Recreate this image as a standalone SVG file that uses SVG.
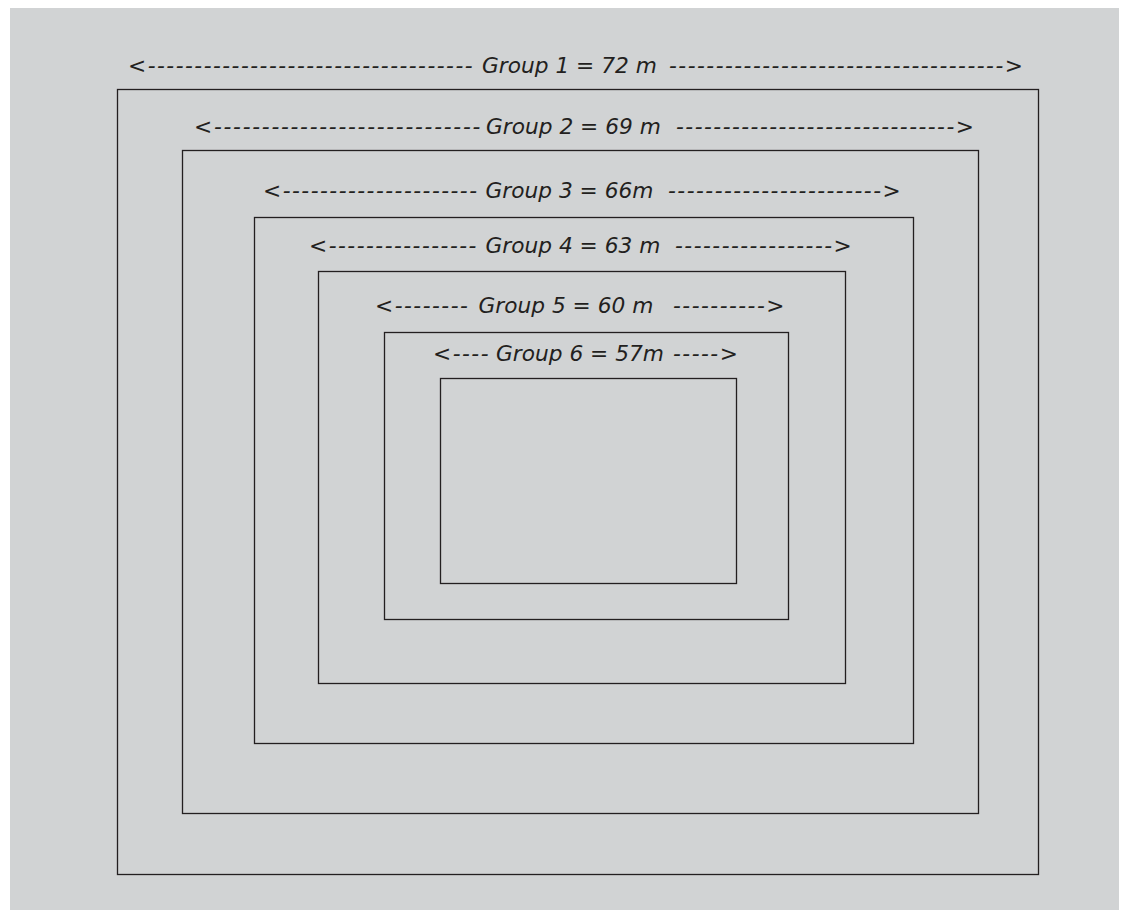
<svg xmlns="http://www.w3.org/2000/svg" width="1122" height="910" viewBox="0 0 1122 910">
<style>
.bg{fill:#d1d3d4}
.box{fill:none;stroke:#231f20;stroke-width:1.3}
text{font-family:"DejaVu Sans","Verdana",sans-serif;font-style:italic;font-size:21.7px;fill:#231f20}
.d{letter-spacing:1.5px}
.dw{letter-spacing:1.75px}
</style>
<rect class="bg" x="10" y="8" width="1109" height="902"/>
<g id="group1">
<rect class="box" x="117.5" y="89.5" width="921" height="785"/>
<text y="72.5"><tspan class="d" x="128">&lt;-----------------------------------</tspan><tspan x="482">Group 1 = 72 m</tspan><tspan class="d" x="669">------------------------------------&gt;</tspan></text>
</g>
<g id="group2">
<rect class="box" x="182.5" y="150.5" width="796" height="663"/>
<text y="134"><tspan class="dw" x="194">&lt;----------------------------</tspan><tspan x="486">Group 2 = 69 m</tspan><tspan class="d" x="676">------------------------------&gt;</tspan></text>
</g>
<g id="group3">
<rect class="box" x="254.5" y="217.5" width="659" height="526"/>
<text y="197.5"><tspan class="d" x="263">&lt;---------------------</tspan><tspan x="485.5">Group 3 = 66m</tspan><tspan class="d" x="668">-----------------------&gt;</tspan></text>
</g>
<g id="group4">
<rect class="box" x="318.5" y="271.5" width="527" height="412"/>
<text y="252.5"><tspan class="d" x="309">&lt;----------------</tspan><tspan x="485.5">Group 4 = 63 m</tspan><tspan class="d" x="675">-----------------&gt;</tspan></text>
</g>
<g id="group5">
<rect class="box" x="384.5" y="332.5" width="404" height="287"/>
<text y="312.5"><tspan class="d" x="375">&lt;--------</tspan><tspan x="478.5">Group 5 = 60 m</tspan><tspan class="d" x="673">----------&gt;</tspan></text>
</g>
<g id="group6">
<rect class="box" x="440.5" y="378.5" width="296" height="205"/>
<text y="361"><tspan class="d" x="433">&lt;----</tspan><tspan x="496">Group 6 = 57m</tspan><tspan class="d" x="673">-----&gt;</tspan></text>
</g>
</svg>
